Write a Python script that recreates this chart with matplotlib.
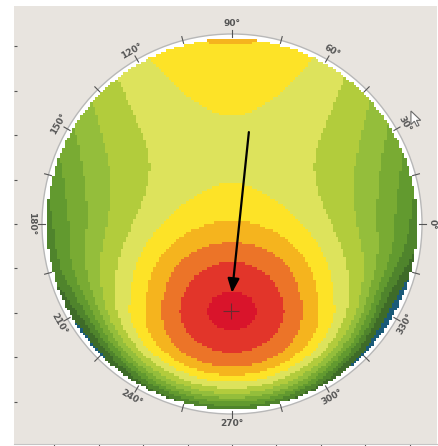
import numpy as np
import matplotlib
matplotlib.use("Agg")
import matplotlib.pyplot as plt
from matplotlib.colors import ListedColormap, BoundaryNorm
from matplotlib.patches import Circle, Polygon

PX_PER_MM = 44.4
MAP_RADIUS = 190 / PX_PER_MM      # outer ring of the map, mm
DATA_RADIUS = 0.975               # measured zone, fraction of the ring

# elevation bands (arbitrary units) and their colours, low -> high
BAND_EDGES = [-20, 1.0, 2.3, 3.3, 4.2, 5.1, 6, 7, 8, 9, 10, 11, 12, 30]
BAND_COLORS = ["#1b5b79", "#3e6b28", "#4f842c", "#629a2f", "#79ab33",
               "#94be3b", "#b2cc3c", "#dde35c", "#fde327", "#f5b41e",
               "#ec7428", "#e2352a", "#d9142b"]

# surface description in normalised coordinates (ring radius = 1)
BUMP_CENTER = (0.0, -0.455)
BUMP_HEIGHT = 6.1
BUMP_SIGMA = (0.46, 0.305, 0.32)                 # horizontal, upward, downward
VERTICAL_COEFS = [7.131, 1.757, -1.633, 2.046]   # base along the vertical meridian
VERTICAL_FLOOR = -0.355
HORIZONTAL_CURVE = (4.3, 1.0)                    # curvature, easing towards the top
# roll-off of the lower rim: strength, start radius, onset, onset shift, softness, sides
EDGE_DROP = (62.0, 0.70, 0.40, 0.08, 0.09, 0.065)

ANGLE_LABELS = list(range(0, 360, 30))
TICK_ANGLES = list(range(0, 360, 15))

ARROW_TAIL = (0.38, 2.07)
ARROW_HEAD = (0.0, -1.55)
CURSOR_TIP = (4.03, 2.545)


def surface(u, v):
    du = u - BUMP_CENTER[0]
    dv = v - BUMP_CENTER[1]
    sx, s_up, s_down = BUMP_SIGMA
    sy = np.where(dv > 0, s_up, s_down)
    bump = BUMP_HEIGHT * np.exp(-0.5 * ((du / sx) ** 2 + (dv / sy) ** 2))
    ve = np.maximum(v, VERTICAL_FLOOR)
    c0, c1, c2, c3 = VERTICAL_COEFS
    curve = HORIZONTAL_CURVE[0] - HORIZONTAL_CURVE[1] * np.clip(v, 0, 0.6)
    base = c0 + c1 * ve + c2 * ve ** 2 + c3 * ve ** 3 - curve * u ** 2
    r = np.maximum(np.hypot(u, v), 1e-9)
    strength, r0, onset, shift, soft, side = EDGE_DROP
    down = np.clip(-v / r, 0, 1)
    weight = 1 / (1 + np.exp(-(down - onset + shift * u / r) / soft))
    weight = weight + side * (1 - v / r)
    edge = strength * np.clip(r - r0, 0, None) ** 2 * weight
    return base + bump - edge


fig = plt.figure(figsize=(4.39, 4.46), dpi=100)
fig.patch.set_facecolor("white")
ax = fig.add_axes([14 / 439, 2 / 446, 423 / 439, 438 / 446])
ax.set_facecolor("#e8e4df")
ax.set_xlim(-218 / PX_PER_MM, 205 / PX_PER_MM)
ax.set_ylim(-220 / PX_PER_MM, 218 / PX_PER_MM)

for side in ["top", "right", "left"]:
    ax.spines[side].set_visible(False)
ax.spines["bottom"].set_color("#c4c4c4")
ax.set_xticks(np.arange(-4, 5))
ax.set_yticks(np.arange(-4, 5))
ax.tick_params(axis="x", direction="out", length=3, color="#555555",
               labelbottom=False)
ax.tick_params(axis="y", direction="in", length=2.5, color="#555555",
               labelleft=False)

# white ring behind the map
ax.add_patch(Circle((0, 0), MAP_RADIUS, facecolor="white",
                    edgecolor="#b8b8b8", lw=1.0, zorder=1))

# colour map of the surface
n = 150
edges = np.linspace(-1, 1, n + 1)
mid = (edges[:-1] + edges[1:]) / 2
U, V = np.meshgrid(mid, mid)
Z = surface(U, V)
Z = np.ma.masked_where(np.hypot(U, V) > DATA_RADIUS, Z)
cmap = ListedColormap(BAND_COLORS)
norm = BoundaryNorm(BAND_EDGES, cmap.N)
ax.pcolormesh(edges * MAP_RADIUS, edges * MAP_RADIUS, Z, cmap=cmap,
              norm=norm, shading="flat", antialiased=False, zorder=2)

# angle ticks and labels around the ring
r_in = 187 / PX_PER_MM
r_out = 194 / PX_PER_MM
for a in TICK_ANGLES:
    t = np.radians(a)
    ax.plot([r_in * np.cos(t), r_out * np.cos(t)],
            [r_in * np.sin(t), r_out * np.sin(t)],
            color="#555555", lw=0.8, zorder=3)

r_lab = 200 / PX_PER_MM
for a in ANGLE_LABELS:
    t = np.radians(a)
    rot = a - 90 if a < 180 else a + 90 - 360
    ax.text(r_lab * np.cos(t), r_lab * np.sin(t), f"{a}°",
            rotation=rot, rotation_mode="anchor", ha="center", va="center",
            fontsize=6.5, fontweight="bold", color="#555555", zorder=3)

# apex marker at the highest cell, and the pointer arrow
iy, ix = np.unravel_index(np.argmax(Z), Z.shape)
ax.plot(mid[ix] * MAP_RADIUS, mid[iy] * MAP_RADIUS, marker="+", ms=12,
        mew=0.8, color="#6b2b30", zorder=4)
ax.annotate("", xy=ARROW_HEAD, xytext=ARROW_TAIL,
            arrowprops=dict(arrowstyle="-|>,head_length=0.6,head_width=0.25",
                            color="black", lw=1.6, mutation_scale=14,
                            shrinkA=0, shrinkB=0), zorder=5)

# mouse pointer
shape = np.array([(0, 0), (0, 16), (4, 12), (7, 18), (9.5, 17),
                  (6.5, 11), (11.5, 11)]) * 0.85
pts = np.column_stack([CURSOR_TIP[0] + shape[:, 0] / PX_PER_MM,
                       CURSOR_TIP[1] - shape[:, 1] / PX_PER_MM])
ax.add_patch(Polygon(pts, closed=True, facecolor="white",
                     edgecolor="#6a6a6a", lw=0.8, zorder=5))

fig.savefig("out.png", dpi=100)
